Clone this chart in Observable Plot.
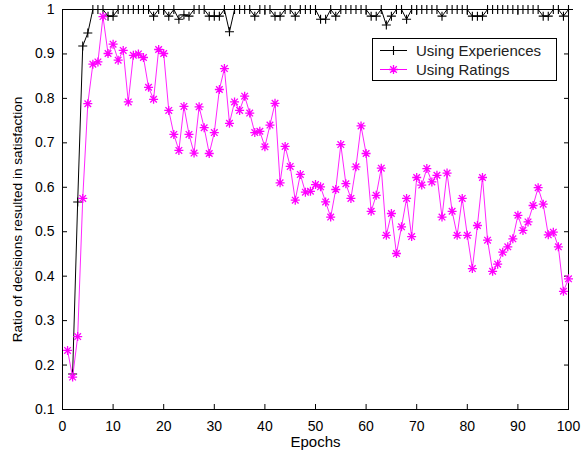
<!DOCTYPE html>
<html><head><meta charset="utf-8">
<script src="https://cdn.jsdelivr.net/npm/d3@7"></script>
<script src="https://cdn.jsdelivr.net/npm/@observablehq/plot@0.6"></script>
<style>body{margin:0;background:#fff} #chart{width:581px;height:454px}</style>
</head><body><div id="chart"></div>
<script>
const epochs = [1,2,3,4,5,6,7,8,9,10,11,12,13,14,15,16,17,18,19,20,21,22,23,24,25,26,27,28,29,30,31,32,33,34,35,36,37,38,39,40,41,42,43,44,45,46,47,48,49,50,51,52,53,54,55,56,57,58,59,60,61,62,63,64,65,66,67,68,69,70,71,72,73,74,75,76,77,78,79,80,81,82,83,84,85,86,87,88,89,90,91,92,93,94,95,96,97,98,99,100];

const usingExperiences = [null,0.18,0.567,0.918,0.947,1,1,1,0.985,0.985,
  1,1,1,1,1,1,1,0.985,1,1,
  0.985,1,0.978,0.988,0.985,1,1,1,0.985,0.985,
  0.985,1,0.95,1,1,1,1,0.985,1,1,
  1,0.985,0.985,1,1,0.985,1,1,1,1,
  0.978,0.978,1,0.985,1,1,1,1,1,1,
  0.985,0.985,1,0.965,0.985,1,1,0.978,1,1,
  1,1,1,1,0.985,1,1,1,1,1,
  0.985,0.985,0.985,1,1,1,1,1,1,1,
  1,1,1,1,0.985,0.985,1,1,0.985,1];

const usingRatings = [0.233,0.173,0.264,0.575,0.788,0.877,0.882,0.984,0.901,0.922,
  0.886,0.908,0.792,0.897,0.900,0.892,0.825,0.798,0.910,0.901,
  0.773,0.719,0.683,0.782,0.719,0.677,0.781,0.734,0.676,0.723,
  0.820,0.867,0.744,0.792,0.773,0.805,0.767,0.723,0.726,0.691,
  0.740,0.789,0.610,0.692,0.647,0.571,0.629,0.589,0.591,0.606,
  0.601,0.567,0.533,0.595,0.696,0.608,0.575,0.646,0.738,0.676,
  0.546,0.582,0.643,0.492,0.541,0.451,0.511,0.575,0.489,0.622,
  0.605,0.642,0.612,0.627,0.533,0.632,0.546,0.492,0.575,0.492,
  0.417,0.514,0.622,0.481,0.411,0.427,0.454,0.466,0.484,0.537,
  0.503,0.522,0.559,0.599,0.562,0.493,0.499,0.466,0.366,0.394];

const xTicks = [0,10,20,30,40,50,60,70,80,90,100];
const yTicks = [0.1,0.2,0.3,0.4,0.5,0.6,0.7,0.8,0.9,1];
const yTickLabels = ["0.1","0.2","0.3","0.4","0.5","0.6","0.7","0.8","0.9","1"];
const seriesNames = ["Using Experiences","Using Ratings"];
const xLabel = "Epochs";
const yLabel = "Ratio of decisions resulted in satisfaction";

const expData = epochs.map((e,i)=>({epoch:e, value:usingExperiences[i]})).filter(d=>d.value!=null);
const ratData = epochs.map((e,i)=>({epoch:e, value:usingRatings[i]}));

const plusSymbol = {draw(c){const r=4.5;c.moveTo(-r,0);c.lineTo(r,0);c.moveTo(0,-r);c.lineTo(0,r);}};
const starSymbol = {draw(c){const r=4.5,d=3.3;c.moveTo(-r,0);c.lineTo(r,0);c.moveTo(0,-r);c.lineTo(0,r);
  c.moveTo(-d,-d);c.lineTo(d,d);c.moveTo(-d,d);c.lineTo(d,-d);}};

const MAG = "#ff00ff";
const fontFam = "'Liberation Sans', Arial, sans-serif";

const plot = Plot.plot({
  width: 581, height: 454,
  marginLeft: 62, marginRight: 13, marginTop: 9, marginBottom: 45,
  style: {fontFamily: fontFam, fontSize: "14px", background: "#fff", color: "#000"},
  x: {domain: [0,100], ticks: xTicks},
  y: {domain: [0.1,1], ticks: yTicks},
  marks: [
    Plot.axisX(xTicks, {anchor:"bottom", tickSize: 0, tickPadding: 12, label: null, tickFormat: d=>String(d), fontSize: 14}),
    Plot.axisX(xTicks, {anchor:"bottom", tickSize: -5, tickFormat: ()=>"", label: null}),
    Plot.axisX(xTicks, {anchor:"top", tickSize: -5, tickFormat: ()=>"", label: null}),
    Plot.axisY(yTicks, {anchor:"left", tickSize: 0, tickPadding: 8, label: null, tickFormat: (d)=>yTickLabels[yTicks.indexOf(d)], fontSize: 14}),
    Plot.axisY(yTicks, {anchor:"left", tickSize: -5, tickFormat: ()=>"", label: null}),
    Plot.axisY(yTicks, {anchor:"right", tickSize: -5, tickFormat: ()=>"", label: null}),
    Plot.frame({stroke: "#000", strokeWidth: 1}),
    Plot.line(expData, {x:"epoch", y:"value", stroke:"#000", strokeWidth:1}),
    Plot.dot(expData, {x:"epoch", y:"value", symbol: plusSymbol, fill:"none", stroke:"#000", strokeWidth:1.1}),
    Plot.line(ratData, {x:"epoch", y:"value", stroke:MAG, strokeWidth:1, strokeOpacity:0.85}),
    Plot.dot(ratData, {x:"epoch", y:"value", symbol: starSymbol, fill:"none", stroke:MAG, strokeWidth:1.3}),
    Plot.text([xLabel], {frameAnchor:"bottom", dy: 33, lineAnchor: "middle", fontSize: 15, fill:"#000"}),
    Plot.text([yLabel], {frameAnchor:"left", dx: -45, dy: 10, rotate: -90, textAnchor: "middle", lineAnchor: "middle", fontSize: 13.6, fill:"#000"})
  ]
});

// legend
const svg = d3.select(plot);
const lg = svg.append("g").attr("font-family", fontFam).attr("font-size", 15).attr("text-anchor","start");
lg.append("rect").attr("x",372.5).attr("y",38.5).attr("width",184).attr("height",42)
  .attr("fill","#fff").attr("stroke","#000").attr("stroke-width",1);
const rows = [{y:50.5, color:"#000", sym:plusSymbol}, {y:69.5, color:MAG, sym:starSymbol}];
rows.forEach((r,i)=>{
  lg.append("line").attr("x1",380).attr("x2",407).attr("y1",r.y).attr("y2",r.y).attr("stroke",r.color).attr("stroke-width",1);
  lg.append("path").attr("d", d3.symbol(r.sym)()).attr("transform",`translate(393.5,${r.y})`)
    .attr("fill","none").attr("stroke",r.color).attr("stroke-width", i ? 1.3 : 1.1);
  lg.append("text").attr("x",416).attr("y",r.y).attr("dy","0.35em").attr("text-anchor","start").attr("fill","#222").text(seriesNames[i]);
});

document.getElementById("chart").appendChild(plot);
</script>
</body></html>
